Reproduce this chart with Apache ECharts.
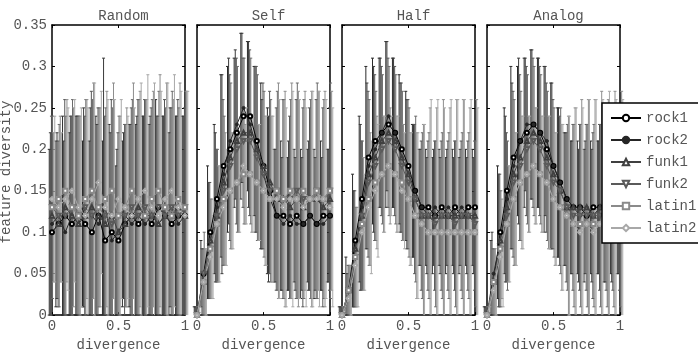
<!DOCTYPE html>
<html><head><meta charset="utf-8">
<script src="https://cdn.jsdelivr.net/npm/echarts@6/dist/echarts.min.js"></script>
<style>html,body{margin:0;padding:0;background:#fff}#c{width:698px;height:357px}</style>
</head><body><div id="c"></div>
<script>
const xs = [0,0.05,0.1,0.15,0.2,0.25,0.3,0.35,0.4,0.45,0.5,0.55,0.6,0.65,0.7,0.75,0.8,0.85,0.9,0.95,1];
const seriesNames = ['rock1','rock2','funk1','funk2','latin1','latin2'];
const panelTitles = ['Random','Self','Half','Analog'];
const xTickLabels = ['0','0.5','1'];
const yTickLabels = ['0','0.05','0.1','0.15','0.2','0.25','0.3','0.35'];

// Random
const randomMean = [
 [0.10,0.11,0.12,0.11,0.12,0.11,0.10,0.12,0.09,0.10,0.09,0.11,0.12,0.11,0.12,0.11,0.13,0.12,0.11,0.12,0.12],
 [0.11,0.12,0.10,0.12,0.11,0.13,0.12,0.11,0.13,0.09,0.10,0.12,0.11,0.12,0.11,0.12,0.11,0.12,0.13,0.11,0.12],
 [0.12,0.11,0.13,0.12,0.11,0.12,0.13,0.12,0.11,0.12,0.10,0.11,0.12,0.13,0.12,0.12,0.11,0.12,0.12,0.13,0.12],
 [0.13,0.12,0.12,0.13,0.12,0.13,0.12,0.13,0.12,0.11,0.12,0.12,0.13,0.12,0.13,0.12,0.13,0.12,0.13,0.12,0.13],
 [0.13,0.14,0.15,0.13,0.12,0.14,0.15,0.13,0.14,0.15,0.12,0.13,0.15,0.14,0.12,0.14,0.15,0.13,0.12,0.14,0.13],
 [0.14,0.13,0.14,0.15,0.13,0.12,0.14,0.16,0.13,0.12,0.14,0.13,0.12,0.14,0.15,0.13,0.12,0.14,0.15,0.13,0.12]];
const randomErr = [
 [0.10,0.10,0.12,0.11,0.12,0.10,0.11,0.12,0.12,0.13,0.09,0.10,0.11,0.12,0.12,0.12,0.13,0.12,0.11,0.12,0.12],
 [0.11,0.10,0.11,0.12,0.13,0.12,0.13,0.12,0.18,0.13,0.10,0.10,0.12,0.12,0.13,0.12,0.13,0.12,0.12,0.13,0.12],
 [0.12,0.10,0.13,0.12,0.13,0.12,0.14,0.13,0.13,0.14,0.12,0.12,0.13,0.13,0.14,0.13,0.13,0.14,0.13,0.13,0.13],
 [0.11,0.11,0.12,0.13,0.12,0.13,0.14,0.12,0.13,0.14,0.12,0.11,0.13,0.14,0.13,0.14,0.14,0.13,0.14,0.13,0.14],
 [0.09,0.10,0.11,0.12,0.12,0.12,0.13,0.12,0.13,0.13,0.12,0.12,0.13,0.13,0.14,0.13,0.14,0.15,0.14,0.14,0.14],
 [0.10,0.09,0.11,0.11,0.12,0.13,0.14,0.11,0.13,0.14,0.12,0.11,0.13,0.14,0.14,0.15,0.15,0.14,0.14,0.14,0.15]];

// Self
const selfMean = [
 [0.00,0.05,0.10,0.14,0.18,0.20,0.22,0.24,0.24,0.21,0.18,0.15,0.12,0.12,0.11,0.12,0.11,0.12,0.11,0.12,0.12],
 [0.00,0.04,0.09,0.13,0.17,0.21,0.23,0.25,0.23,0.20,0.17,0.14,0.12,0.11,0.12,0.11,0.11,0.12,0.11,0.11,0.12],
 [0.00,0.04,0.09,0.12,0.16,0.19,0.21,0.22,0.22,0.20,0.18,0.16,0.14,0.14,0.13,0.14,0.13,0.14,0.14,0.13,0.14],
 [0.00,0.05,0.08,0.12,0.15,0.18,0.20,0.21,0.21,0.19,0.17,0.15,0.15,0.14,0.14,0.15,0.14,0.14,0.15,0.14,0.15],
 [0.00,0.04,0.08,0.11,0.14,0.15,0.16,0.17,0.17,0.16,0.15,0.14,0.15,0.14,0.15,0.14,0.15,0.14,0.15,0.14,0.15],
 [0.00,0.04,0.07,0.11,0.13,0.15,0.16,0.18,0.17,0.16,0.15,0.14,0.14,0.13,0.14,0.14,0.13,0.14,0.14,0.14,0.13]];
const selfErr = [
 [0.01,0.04,0.08,0.09,0.11,0.10,0.09,0.10,0.09,0.09,0.10,0.10,0.08,0.09,0.08,0.08,0.09,0.08,0.09,0.09,0.08],
 [0.01,0.04,0.07,0.09,0.12,0.10,0.09,0.09,0.10,0.10,0.09,0.10,0.08,0.08,0.09,0.08,0.08,0.09,0.08,0.08,0.08],
 [0.01,0.04,0.07,0.08,0.10,0.10,0.10,0.09,0.10,0.10,0.10,0.11,0.11,0.12,0.11,0.12,0.12,0.11,0.12,0.12,0.11],
 [0.01,0.05,0.06,0.08,0.09,0.10,0.10,0.10,0.10,0.10,0.10,0.11,0.12,0.12,0.12,0.13,0.12,0.12,0.13,0.12,0.13],
 [0.01,0.04,0.06,0.07,0.08,0.07,0.06,0.06,0.07,0.07,0.09,0.10,0.13,0.13,0.13,0.13,0.12,0.13,0.12,0.13,0.12],
 [0.01,0.04,0.05,0.07,0.07,0.07,0.06,0.07,0.07,0.07,0.09,0.10,0.12,0.12,0.13,0.12,0.12,0.13,0.13,0.12,0.12]];

// Half
const halfMean = [
 [0.00,0.03,0.09,0.14,0.19,0.21,0.22,0.23,0.22,0.20,0.18,0.15,0.13,0.13,0.12,0.13,0.12,0.13,0.12,0.13,0.13],
 [0.00,0.02,0.08,0.13,0.18,0.20,0.22,0.24,0.22,0.19,0.17,0.15,0.13,0.12,0.13,0.12,0.13,0.12,0.13,0.12,0.12],
 [0.00,0.03,0.08,0.12,0.17,0.19,0.21,0.22,0.21,0.19,0.17,0.14,0.12,0.12,0.12,0.12,0.12,0.12,0.12,0.12,0.12],
 [0.00,0.03,0.07,0.12,0.16,0.18,0.20,0.21,0.20,0.18,0.16,0.14,0.12,0.12,0.11,0.12,0.12,0.11,0.12,0.12,0.11],
 [0.00,0.03,0.07,0.11,0.14,0.16,0.17,0.18,0.17,0.16,0.14,0.12,0.11,0.10,0.10,0.10,0.10,0.10,0.10,0.10,0.10],
 [0.00,0.02,0.06,0.10,0.13,0.15,0.17,0.18,0.17,0.15,0.14,0.12,0.11,0.10,0.10,0.10,0.10,0.10,0.10,0.10,0.10]];
const halfErr = [
 [0.01,0.04,0.08,0.10,0.11,0.10,0.09,0.10,0.09,0.09,0.09,0.08,0.07,0.07,0.07,0.07,0.07,0.07,0.07,0.07,0.07],
 [0.01,0.03,0.07,0.10,0.10,0.10,0.09,0.09,0.09,0.09,0.09,0.08,0.07,0.07,0.07,0.07,0.07,0.07,0.07,0.07,0.07],
 [0.01,0.03,0.07,0.09,0.10,0.10,0.09,0.09,0.09,0.09,0.09,0.09,0.09,0.09,0.09,0.09,0.09,0.09,0.09,0.09,0.09],
 [0.01,0.03,0.06,0.09,0.10,0.09,0.09,0.09,0.09,0.09,0.09,0.10,0.10,0.10,0.10,0.10,0.10,0.10,0.10,0.10,0.10],
 [0.01,0.03,0.06,0.08,0.08,0.08,0.07,0.07,0.07,0.07,0.08,0.10,0.12,0.15,0.15,0.16,0.15,0.16,0.16,0.15,0.16],
 [0.01,0.02,0.05,0.07,0.08,0.08,0.07,0.06,0.07,0.07,0.08,0.10,0.12,0.16,0.16,0.15,0.16,0.16,0.16,0.16,0.15]];

// Analog
const analogMean = [
 [0.00,0.04,0.10,0.15,0.19,0.21,0.22,0.23,0.22,0.20,0.18,0.16,0.14,0.13,0.13,0.12,0.13,0.13,0.12,0.13,0.13],
 [0.00,0.05,0.09,0.14,0.18,0.21,0.23,0.23,0.22,0.21,0.18,0.16,0.14,0.13,0.12,0.13,0.12,0.13,0.12,0.12,0.13],
 [0.00,0.04,0.09,0.13,0.17,0.19,0.21,0.22,0.21,0.19,0.17,0.15,0.13,0.13,0.13,0.13,0.12,0.13,0.13,0.13,0.13],
 [0.00,0.04,0.08,0.12,0.16,0.18,0.20,0.21,0.20,0.18,0.16,0.15,0.13,0.12,0.12,0.12,0.12,0.12,0.12,0.12,0.12],
 [0.00,0.04,0.08,0.11,0.14,0.16,0.17,0.18,0.17,0.16,0.14,0.13,0.12,0.11,0.11,0.11,0.11,0.11,0.11,0.11,0.11],
 [0.00,0.03,0.07,0.11,0.14,0.16,0.17,0.18,0.17,0.16,0.14,0.13,0.12,0.11,0.10,0.11,0.10,0.11,0.11,0.10,0.11]];
const analogErr = [
 [0.01,0.05,0.08,0.10,0.11,0.09,0.09,0.09,0.09,0.10,0.10,0.09,0.08,0.08,0.08,0.08,0.08,0.08,0.08,0.08,0.08],
 [0.01,0.05,0.08,0.10,0.10,0.10,0.08,0.09,0.09,0.09,0.10,0.09,0.08,0.08,0.08,0.08,0.08,0.08,0.08,0.08,0.08],
 [0.01,0.04,0.08,0.09,0.10,0.10,0.09,0.09,0.09,0.09,0.09,0.09,0.09,0.10,0.10,0.10,0.10,0.10,0.10,0.10,0.10],
 [0.01,0.04,0.07,0.09,0.10,0.09,0.09,0.09,0.09,0.09,0.09,0.10,0.10,0.11,0.11,0.11,0.11,0.11,0.11,0.11,0.11],
 [0.01,0.04,0.06,0.07,0.08,0.08,0.07,0.07,0.07,0.08,0.08,0.10,0.12,0.14,0.15,0.15,0.15,0.16,0.15,0.16,0.16],
 [0.01,0.03,0.06,0.07,0.08,0.08,0.07,0.07,0.07,0.08,0.08,0.10,0.12,0.14,0.15,0.15,0.16,0.15,0.16,0.16,0.15]];

const panelMeans = [randomMean, selfMean, halfMean, analogMean];
const panelErrs = [randomErr, selfErr, halfErr, analogErr];

const colors = ['#000000','#262626','#404040','#5a5a5a','#8a8a8a','#a8a8a8'];
const barColors = ['#2a2a2a','#3a3a3a','#555555','#6a6a6a','#8e8e8e','#a8a8a8'];
const symbols = ['emptyCircle','circle','emptyTriangle','emptyTriangle','emptyRect','emptyDiamond'];
const symSizes = [4,3,4,4,4,4];
const symRot = [0,0,0,180,0,0];
const offsets = [-2.75,-1.65,-0.55,0.55,1.65,2.75];

const FONT = 'Liberation Mono';
const TXT = '#555';
const lefts = [52,197,342,487];
const W = 133, TOP = 25, H = 297;

const chart = echarts.init(document.getElementById('c'), null, {renderer:'canvas'});

const grid = lefts.map(l => ({left:l, top:TOP, width:W, height:H, show:false}));
const xAxis = [];
const yAxis = [];
lefts.forEach((l,i) => {
  xAxis.push({gridIndex:i, type:'value', min:0, max:1, interval:0.5, position:'bottom',
    axisLine:{show:true, onZero:false, lineStyle:{color:'#000', width:1.5}},
    axisTick:{show:true, inside:true, length:3, lineStyle:{color:'#000'}},
    splitLine:{show:false},
    axisLabel:{margin:4, fontFamily:FONT, fontSize:14, color:TXT,
      formatter:v => xTickLabels[Math.round(v*2)]},
    name:'divergence', nameLocation:'middle', nameGap:17,
    nameTextStyle:{fontFamily:FONT, fontSize:14, color:TXT}});
});
lefts.forEach((l,i) => {
  xAxis.push({gridIndex:i, type:'value', min:0, max:1, interval:0.5, position:'top',
    axisLine:{show:true, onZero:false, lineStyle:{color:'#000', width:1.5}},
    axisTick:{show:true, inside:true, length:3, lineStyle:{color:'#000'}},
    splitLine:{show:false}, axisLabel:{show:false}});
});
lefts.forEach((l,i) => {
  yAxis.push({gridIndex:i, type:'value', min:0, max:0.35, interval:0.05, position:'left',
    axisLine:{show:true, onZero:false, lineStyle:{color:'#000', width:1.5}},
    axisTick:{show:true, inside:true, length:3, lineStyle:{color:'#000'}},
    splitLine:{show:false},
    axisLabel:{show:i===0, margin:5, fontFamily:FONT, fontSize:14, color:TXT,
      formatter:v => yTickLabels[Math.round(v*20)]}});
});
lefts.forEach((l,i) => {
  yAxis.push({gridIndex:i, type:'value', min:0, max:0.35, interval:0.05, position:'right',
    axisLine:{show:true, onZero:false, lineStyle:{color:'#000', width:1.5}},
    axisTick:{show:true, inside:true, length:3, lineStyle:{color:'#000'}},
    splitLine:{show:false}, axisLabel:{show:false}});
});

function makeRender(color, off){
  return function(params, api){
    const x = api.value(0), lo = api.value(1), hi = api.value(2);
    const p1 = api.coord([x, lo]);
    const p2 = api.coord([x, hi]);
    const cs = params.coordSys;
    const bottom = cs.y + cs.height, top = cs.y;
    const yb = Math.min(p1[1], bottom);
    const yt = Math.max(p2[1], top);
    const px = p1[0] + off;
    const w = 1.5;
    const style = {stroke:color, lineWidth:1, fill:null};
    const ch = [{type:'line', shape:{x1:px,y1:yb,x2:px,y2:yt}, style}];
    if (p2[1] >= top) ch.push({type:'line', shape:{x1:px-w,y1:yt,x2:px+w,y2:yt}, style});
    if (p1[1] <= bottom) ch.push({type:'line', shape:{x1:px-w,y1:yb,x2:px+w,y2:yb}, style});
    return {type:'group', children:ch};
  };
}

const series = [];
for (let p = 0; p < 4; p++) {
  for (let s = 0; s < 6; s++) {
    const m = panelMeans[p][s], e = panelErrs[p][s];
    series.push({type:'custom', xAxisIndex:p, yAxisIndex:p, silent:true,
      renderItem: makeRender(barColors[s], offsets[s]),
      encode:{x:0, y:[1,2]},
      data: xs.map((x,i) => [x, m[i]-e[i], m[i]+e[i]])});
    series.push({type:'line', name:seriesNames[s], xAxisIndex:p, yAxisIndex:p,
      data: xs.map((x,i) => [x, m[i]]),
      symbol:symbols[s], symbolSize:symSizes[s], symbolRotate:symRot[s],
      showAllSymbol:true,
      lineStyle:{color:colors[s], width:1},
      itemStyle:{color:colors[s], borderColor:colors[s], borderWidth:1}});
  }
}

const option = {
  animation:false,
  backgroundColor:'#fff',
  textStyle:{fontFamily:FONT},
  title: panelTitles.map((t,i) => ({text:t, left:lefts[i]+W/2, top:4, textAlign:'center',
    textStyle:{fontFamily:FONT, fontSize:14, fontWeight:'normal', color:TXT}})),
  grid, xAxis, yAxis, series,
  legend:{data:seriesNames, orient:'vertical', left:602, top:103,
    padding:[8,8,8,8], itemWidth:30, itemHeight:8, itemGap:8,
    backgroundColor:'#fff', borderColor:'#000', borderWidth:1.5,
    textStyle:{fontFamily:FONT, fontSize:14, color:TXT}},
  graphic:[{type:'text', x:6, y:172, rotation:Math.PI/2,
    style:{text:'feature diversity', fontFamily:FONT, fontSize:14, fill:TXT,
      textAlign:'center', textVerticalAlign:'middle'}}]
};
chart.setOption(option);
</script></body></html>
